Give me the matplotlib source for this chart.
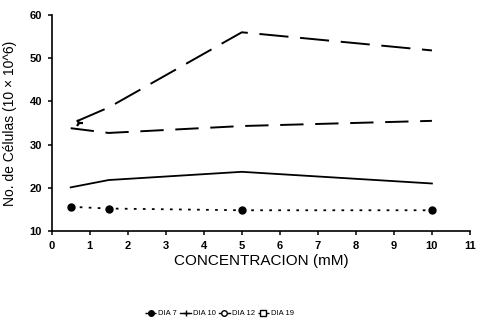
import matplotlib.pyplot as plt
from matplotlib.lines import Line2D

plt.rcParams['font.family'] = ['Liberation Sans', 'DejaVu Sans']

# concentration (mM) and cell counts per day
conc = [0.5, 1.5, 5, 10]
dia7 = [15.6, 15.2, 14.8, 14.8]
dia10 = [20.1, 21.8, 23.7, 21.0]
dia12 = [33.8, 32.7, 34.3, 35.5]
dia19 = [34.8, 38.6, 56.0, 51.8]
stray_x = [0.72]
stray_y = [34.9]

fig = plt.figure(figsize=(4.83, 3.3), dpi=100)
ax = fig.add_axes([0.107, 0.30, 0.866, 0.6545])

ax.plot(conc, dia7, color='k', lw=1.3, ls=(0, (1.5, 3.5)), marker='o', ms=5, mec='k', mfc='k')
ax.plot(conc, dia10, color='k', lw=1.3, ls='-')
ax.plot(conc, dia12, color='k', lw=1.4, ls=(0, (12, 6)))
ax.plot(conc, dia19, color='k', lw=1.4, ls=(17, (15, 6)))
ax.plot(stray_x, stray_y, color='k', ls='none', marker='4', ms=6, mew=1.6)

ax.set_xlim(0, 11)
ax.set_ylim(10, 60)
ax.set_xticks(range(0, 12))
ax.set_yticks(range(10, 61, 10))
for s in ['top', 'right']:
    ax.spines[s].set_visible(False)
for s in ['left', 'bottom']:
    ax.spines[s].set_linewidth(1.2)
ax.tick_params(axis='both', labelsize=8, width=1.1, length=3, pad=4)
for lbl in ax.get_xticklabels() + ax.get_yticklabels():
    lbl.set_fontweight('bold')
ax.set_xlabel('CONCENTRACION (mM)', fontsize=11, labelpad=2)
ax.set_ylabel('No. de Células (10 × 10^6)', fontsize=10, labelpad=9)

handles = [
    Line2D([], [], color='k', lw=1, ls='--', marker='o', ms=4, mfc='k'),
    Line2D([], [], color='k', lw=1, ls='-', marker='+', ms=5),
    Line2D([], [], color='k', lw=1, ls='-', marker='o', ms=4, mfc='white'),
    Line2D([], [], color='k', lw=1, ls='--', marker='s', ms=4, mfc='white'),
]
fig.legend(handles, ['DIA 7', 'DIA 10', 'DIA 12', 'DIA 19'], loc='center',
           bbox_to_anchor=(0.455, 0.05), ncol=4, frameon=False, fontsize=5.5,
           handlelength=1.4, handletextpad=0.3, columnspacing=0.4)

fig.savefig('out.png', dpi=100)
